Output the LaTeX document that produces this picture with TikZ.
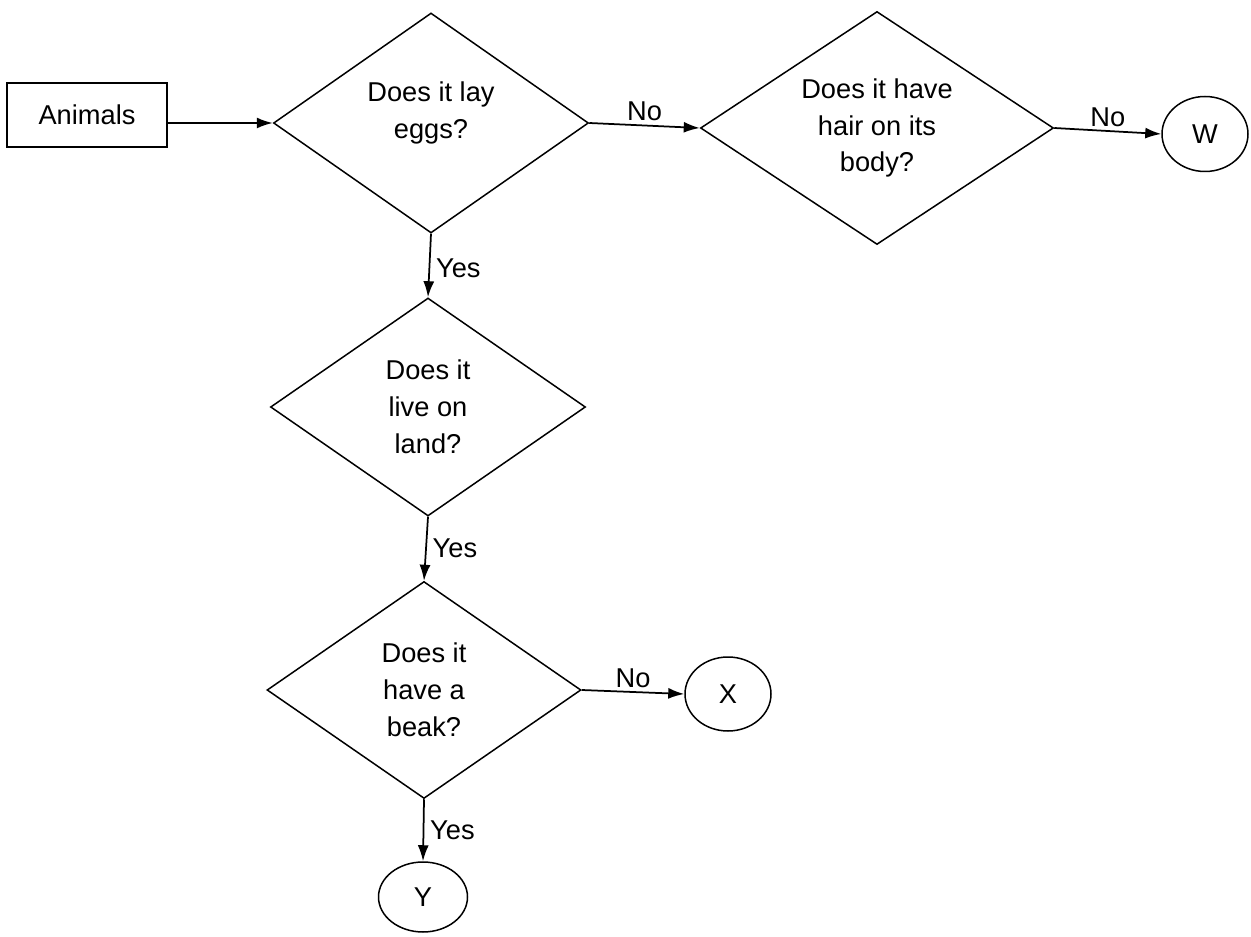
\documentclass[tikz,border=0pt]{standalone}
\usepackage{fontspec}
\setmainfont{Liberation Sans}
\usetikzlibrary{arrows, arrows.meta, shapes.geometric}

\begin{document}
\begin{tikzpicture}[
            every node/.style={font=\fontsize{15.5}{21}\selectfont},
            question/.style={draw, diamond, line width=0.3mm, inner sep=0pt, align=center, aspect=1.43, minimum width=6.3cm, minimum height=4.4cm},
            leaf/.style={draw, ellipse, line width=0.3mm, minimum width=1.72cm, minimum height=1.5cm},
            link/.style={-{Latex[length=3.2mm, width=2.2mm]}, line width=0.35mm}
        ]
            \useasboundingbox (0,0) rectangle (25.02,-18.74);
            \node[draw, line width=0.3mm, minimum width=3.2cm, minimum height=1.28cm] (animals) at (1.74,-2.30) {Animals};
            \node[question] (eggs) at (8.62,-2.46) {Does it lay\\eggs?\\[-6pt]};
            \node[question, aspect=1.5, minimum width=7.06cm, minimum height=4.66cm] (hair) at (17.54,-2.56) {Does it have\\hair on its\\body?};
            \node[leaf] (w) at (24.10,-2.68) {W};
            \node[question, minimum height=4.36cm] (land) at (8.56,-8.14) {Does it\\live on\\land?};
            \node[question, minimum width=6.28cm, minimum height=4.34cm] (beak) at (8.48,-13.80) {Does it\\have a\\beak?};
            \node[leaf, minimum height=1.48cm] (x) at (14.56,-13.88) {X};
            \node[leaf, minimum width=1.78cm, minimum height=1.4cm] (y) at (8.46,-17.94) {Y};

            \draw[link] (animals.east |- eggs.west) -- (eggs.west);
            \draw[link] (eggs.east) -- node[above, inner sep=2pt] {No} (hair.west);
            \draw[link] (hair.east) -- node[above, inner sep=2pt] {No} (w.west);
            \draw[link] (eggs.south) -- node[right, pos=0.55] {Yes} (land.north);
            \draw[link] (land.south) -- node[right, pos=0.5] {Yes} (beak.north);
            \draw[link] (beak.east) -- node[above, inner sep=2pt] {No} (x.west);
            \draw[link] (beak.south) -- node[right, pos=0.5] {Yes} (y.north);
        \end{tikzpicture}
\end{document}
